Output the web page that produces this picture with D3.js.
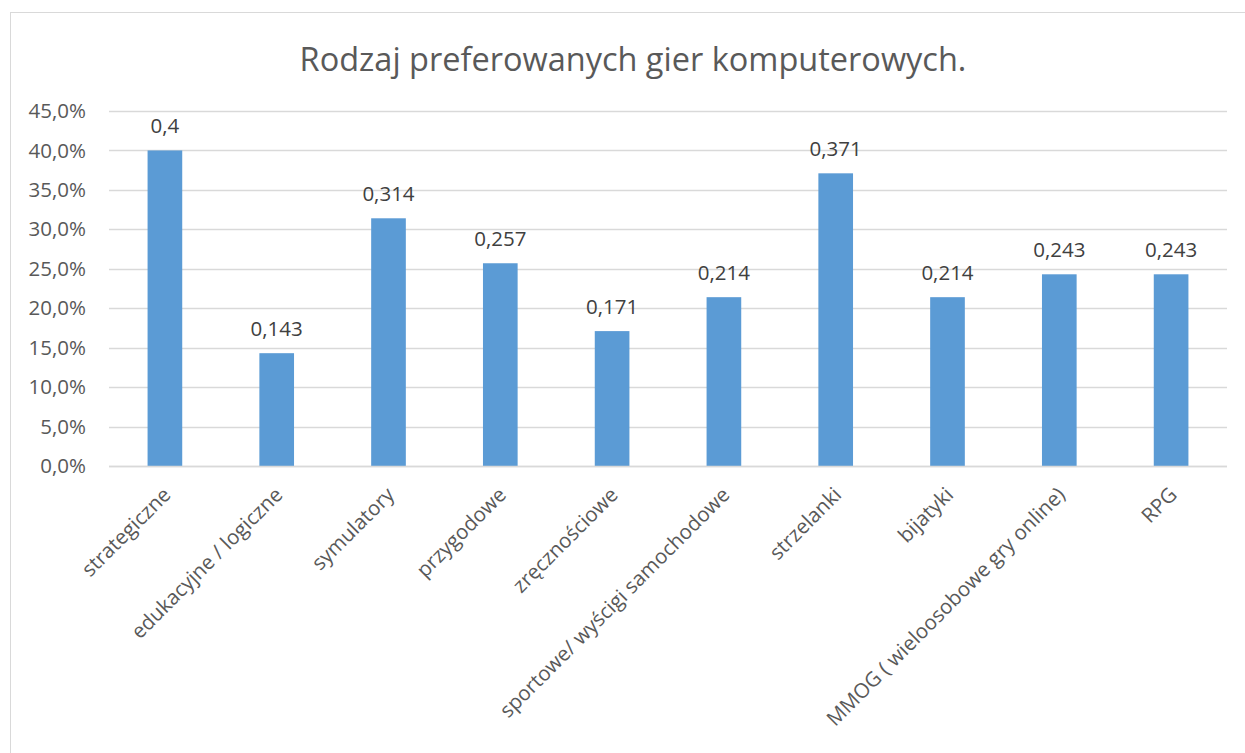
<!DOCTYPE html>
<html>
<head>
<meta charset="utf-8">
<script src="https://cdn.jsdelivr.net/npm/d3@7"></script>
<style>
  body { margin: 0; background: #fff; }
  text { font-family: "Open Sans", Lato, sans-serif; }
</style>
</head>
<body>
<div id="chart"></div>
<script>
const title = "Rodzaj preferowanych gier komputerowych.";

const categories = [
  "strategiczne",
  "edukacyjne / logiczne",
  "symulatory",
  "przygodowe",
  "zręcznościowe",
  "sportowe/ wyścigi samochodowe",
  "strzelanki",
  "bijatyki",
  "MMOG ( wieloosobowe gry online)",
  "RPG",
];

const values = [0.4, 0.143, 0.314, 0.257, 0.171, 0.214, 0.371, 0.214, 0.243, 0.243];

const yTicks = [0, 0.05, 0.1, 0.15, 0.2, 0.25, 0.3, 0.35, 0.4, 0.45];

const width = 1245;
const height = 753;
const margin = { top: 111, right: 18, bottom: 287, left: 109 };
const labelSize = 20.5;

const svg = d3
  .select("#chart")
  .append("svg")
  .attr("width", width)
  .attr("height", height);

// chart frame (right and bottom edges fall outside the picture)
svg
  .append("rect")
  .attr("x", 10.5)
  .attr("y", 12.5)
  .attr("width", width)
  .attr("height", height)
  .attr("fill", "#fff")
  .attr("stroke", "#d9d9d9");

svg
  .append("text")
  .attr("x", 633)
  .attr("y", 71)
  .attr("text-anchor", "middle")
  .attr("font-size", 32.5)
  .attr("fill", "#595959")
  .text(title);

const x = d3
  .scaleBand()
  .domain(categories)
  .range([margin.left, width - margin.right])
  .paddingInner(0.69)
  .paddingOuter(0.345);

const y = d3
  .scaleLinear()
  .domain([0, 0.45])
  .range([height - margin.bottom, margin.top]);

const fmtPct = (d) => d3.format(".1%")(d).replace(".", ",");
const fmtVal = (d) => String(d).replace(".", ",");

// gridlines
svg
  .append("g")
  .selectAll("line")
  .data(yTicks)
  .join("line")
  .attr("x1", margin.left)
  .attr("x2", width - margin.right)
  .attr("y1", (d) => Math.round(y(d)) + 0.5)
  .attr("y2", (d) => Math.round(y(d)) + 0.5)
  .attr("stroke", "#d9d9d9")
  .attr("stroke-width", 1.3);

// y axis labels
const yAxis = svg
  .append("g")
  .attr("transform", `translate(${margin.left},0)`)
  .call(d3.axisLeft(y).tickValues(yTicks).tickFormat(fmtPct).tickSize(0).tickPadding(23));
yAxis.select(".domain").remove();
yAxis
  .selectAll("text")
  .attr("font-size", labelSize)
  .attr("fill", "#595959")
  .style("font-family", "'Open Sans', sans-serif");

// bars
svg
  .append("g")
  .selectAll("rect")
  .data(values)
  .join("rect")
  .attr("x", (d, i) => x(categories[i]))
  .attr("y", (d) => y(d))
  .attr("width", x.bandwidth())
  .attr("height", (d) => y(0) - y(d))
  .attr("fill", "#5b9bd5");

// zero line on top of bars
svg
  .append("line")
  .attr("x1", margin.left)
  .attr("x2", width - margin.right)
  .attr("y1", Math.round(y(0)) + 0.5)
  .attr("y2", Math.round(y(0)) + 0.5)
  .attr("stroke", "#d9d9d9")
  .attr("stroke-width", 1.3);

// value labels
svg
  .append("g")
  .selectAll("text")
  .data(values)
  .join("text")
  .attr("x", (d, i) => x(categories[i]) + x.bandwidth() / 2)
  .attr("y", (d) => y(d) - 17)
  .attr("text-anchor", "middle")
  .attr("font-size", labelSize)
  .attr("fill", "#404040")
  .text(fmtVal);

// category labels, rotated
svg
  .append("g")
  .selectAll("text")
  .data(categories)
  .join("text")
  .attr(
    "transform",
    (d) => `translate(${x(d) + x.bandwidth() / 2 + 2},${y(0) + 25}) rotate(-45)`
  )
  .attr("text-anchor", "end")
  .attr("dy", "0.35em")
  .attr("font-size", labelSize)
  .attr("fill", "#595959")
  .text((d) => d);
</script>
</body>
</html>
